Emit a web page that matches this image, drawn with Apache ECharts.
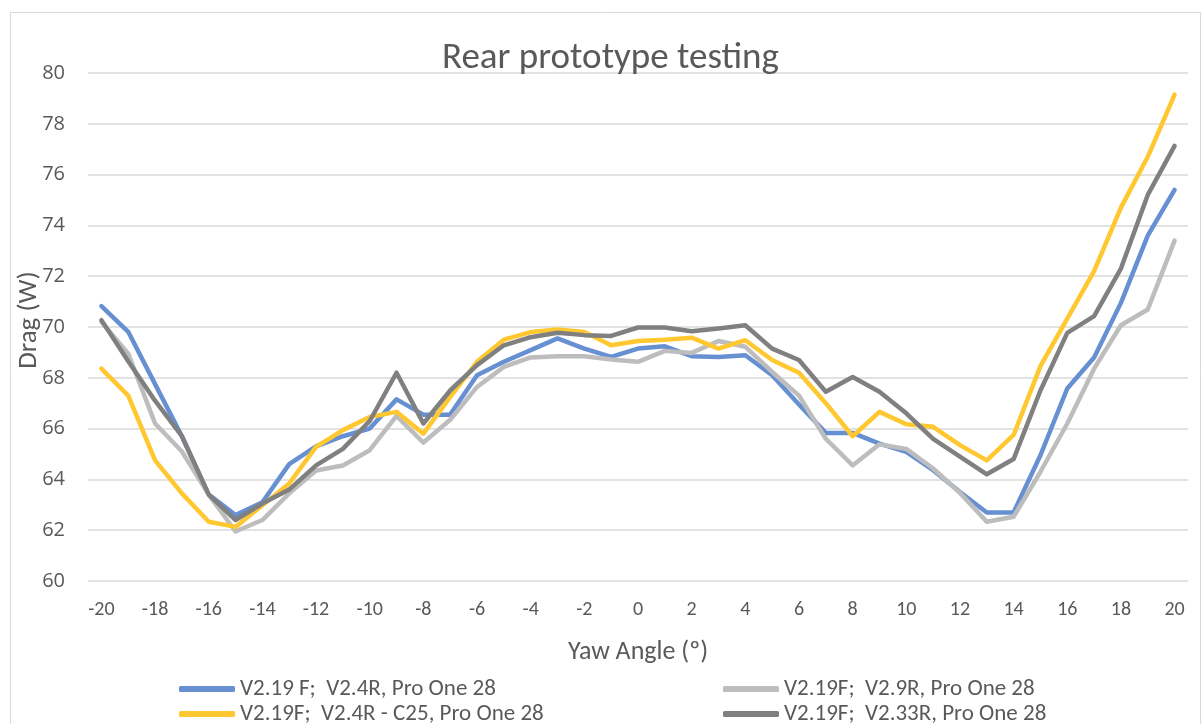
<!DOCTYPE html>
<html>
<head>
<meta charset="utf-8">
<script src="https://cdn.jsdelivr.net/npm/echarts@6/dist/echarts.min.js"></script>
<style>
  html, body { margin: 0; padding: 0; background: #fff; }
  #main { width: 1201px; height: 724px; }
</style>
</head>
<body>
<div id="main"></div>
<script>
// yaw angles -20..20
const yawAngles = [];
for (let a = -20; a <= 20; a++) yawAngles.push(String(a));

const seriesNames = [
    'V2.19 F;  V2.4R, Pro One 28',
    'V2.19F;  V2.9R, Pro One 28',
    'V2.19F;  V2.4R - C25, Pro One 28',
    'V2.19F;  V2.33R, Pro One 28'
];

const blueV24R = [70.82, 69.81, 67.75, 65.7, 63.4, 62.6, 63.1, 64.6, 65.3, 65.7,
    66.0, 67.15, 66.55, 66.55, 68.1, 68.63, 69.09, 69.55, 69.15, 68.82,
    69.15, 69.24, 68.85, 68.82, 68.89, 68.1, 66.95, 65.83, 65.83, 65.41,
    65.08, 64.36, 63.5, 62.7, 62.7, 64.95, 67.58, 68.8, 70.95, 73.6, 75.4];

const lightGrayV29R = [70.2, 68.95, 66.2, 65.1, 63.4, 61.95, 62.4, 63.45, 64.35, 64.55,
    65.15, 66.5, 65.45, 66.35, 67.64, 68.43, 68.8, 68.85, 68.85, 68.72,
    68.63, 69.06, 68.98, 69.45, 69.22, 68.23, 67.3, 65.6, 64.55, 65.38,
    65.2, 64.43, 63.47, 62.33, 62.53, 64.3, 66.2, 68.36, 70.07, 70.69, 73.4];

const yellowC25 = [68.36, 67.3, 64.75, 63.45, 62.33, 62.13, 62.98, 63.84, 65.28, 65.94,
    66.46, 66.66, 65.8, 67.25, 68.63, 69.5, 69.8, 69.9, 69.8, 69.28,
    69.45, 69.5, 69.58, 69.15, 69.48, 68.7, 68.2, 67.0, 65.7, 66.66,
    66.17, 66.07, 65.35, 64.75, 65.75, 68.46, 70.33, 72.2, 74.7, 76.7, 79.15];

const darkGrayV233R = [70.27, 68.65, 67.1, 65.7, 63.4, 62.4, 63.05, 63.6, 64.55, 65.2,
    66.3, 68.2, 66.2, 67.5, 68.5, 69.28, 69.6, 69.77, 69.68, 69.65,
    69.98, 69.98, 69.83, 69.94, 70.07, 69.15, 68.7, 67.45, 68.03, 67.45,
    66.6, 65.6, 64.9, 64.2, 64.8, 67.5, 69.77, 70.43, 72.3, 75.2, 77.13];

const colors = ['#6690d2', '#bdbdbd', '#ffc830', '#808080'];
const font = 'Carlito, Lato, sans-serif';

function lineSeries(name, data, color) {
    return {
        name: name, type: 'line', data: data, symbol: 'none',
        lineStyle: { color: color, width: 4.5, cap: 'round', join: 'round' },
        itemStyle: { color: color }
    };
}

// one legend per entry so the 2x2 layout sits where the original has it
function legendAt(name, left, top) {
    return {
        data: [name], left: left, top: top,
        itemWidth: 56, itemHeight: 6, icon: 'roundRect',
        textStyle: { fontFamily: font, fontSize: 23, lineHeight: 24, color: '#595959' }
    };
}

let option = {
    animation: false,
    backgroundColor: '#fff',
    graphic: [{
        type: 'rect', left: 8, top: 10,
        shape: { width: 1190, height: 730 },
        style: { fill: 'none', stroke: '#d9d9d9', lineWidth: 1 }
    }],
    title: {
        text: 'Rear prototype testing', left: 437, top: 35,
        textStyle: { fontFamily: font, fontSize: 37, fontWeight: 'normal', color: '#595959' }
    },
    legend: [
        legendAt(seriesNames[0], 174, 672),
        legendAt(seriesNames[2], 174, 697),
        legendAt(seriesNames[1], 718, 672),
        legendAt(seriesNames[3], 718, 697)
    ],
    grid: { left: 88, right: 13, top: 73, bottom: 143, containLabel: false, outerBoundsMode: 'none' },
    xAxis: {
        type: 'category', data: yawAngles, boundaryGap: true,
        name: 'Yaw Angle (º)', nameLocation: 'middle', nameGap: 58,
        nameTextStyle: { fontFamily: font, fontSize: 26, color: '#595959' },
        axisLine: { show: false }, axisTick: { show: false },
        axisLabel: {
            interval: 1, margin: 19,
            fontFamily: font, fontSize: 20, color: '#595959'
        }
    },
    yAxis: {
        type: 'value', min: 60, max: 80, interval: 2,
        name: 'Drag (W)', nameLocation: 'middle', nameGap: 45, nameMoveOverlap: false,
        nameTextStyle: { fontFamily: font, fontSize: 27, color: '#595959', padding: [0, 0, 0, 14] },
        axisLine: { show: false }, axisTick: { show: false },
        axisLabel: { margin: 23, fontFamily: '"Open Sans", sans-serif', fontSize: 20, color: '#595959' },
        splitLine: { lineStyle: { color: '#d9d9d9', width: 1.5 } }
    },
    series: [
        lineSeries(seriesNames[0], blueV24R, colors[0]),
        lineSeries(seriesNames[1], lightGrayV29R, colors[1]),
        lineSeries(seriesNames[2], yellowC25, colors[2]),
        lineSeries(seriesNames[3], darkGrayV233R, colors[3])
    ]
};

let myChart = echarts.init(document.getElementById('main'));
myChart.setOption(option);
</script>
</body>
</html>
